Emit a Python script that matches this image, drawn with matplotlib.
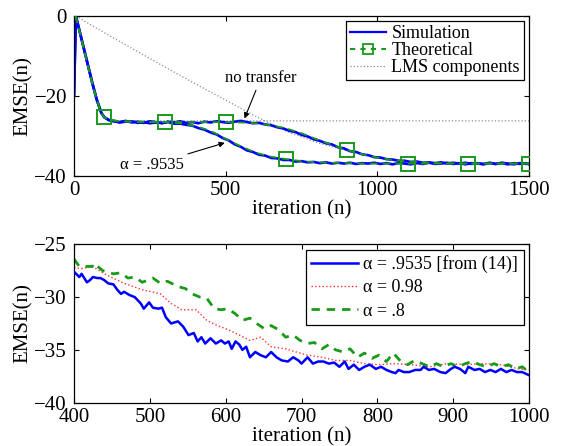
import matplotlib
matplotlib.use("Agg")
import matplotlib.pyplot as plt
from matplotlib.lines import Line2D

plt.rcParams['font.family'] = ['Liberation Serif', 'DejaVu Serif']
plt.rcParams['mathtext.fontset'] = 'stix'

# ---------------- top panel data ----------------
start_x = [0, 6, 20, 40, 60, 75, 90, 100, 115]
start_y = [-20, 0, -4.3, -10.5, -16.7, -21.0, -24.3, -25.4, -26.1]

sim_x = [130, 150, 170, 190, 210, 230, 250, 270, 290, 310, 330, 350, 370, 390,
         410, 430, 450, 470, 490, 510, 530, 550, 570, 590, 610, 630, 650, 670,
         690, 710, 730, 750, 770, 790, 810, 830, 850, 870, 890, 910, 930, 950,
         970, 990, 1010, 1030, 1050, 1070, 1090, 1110, 1130, 1150, 1170, 1190,
         1210, 1230, 1250, 1270, 1290, 1310, 1330, 1350, 1370, 1390, 1410, 1430,
         1450, 1470, 1490, 1500]
sim_notransfer = [-26.4, -26.6, -26.3, -26.7, -26.5, -26.8, -26.4, -26.6, -26.9,
                  -26.5, -26.7, -26.4, -26.8, -26.6, -26.9, -26.5, -26.7, -26.4,
                  -26.6, -26.8, -26.5, -26.3, -26.6, -26.9, -26.8, -27.2, -27.4,
                  -27.9, -28.2, -28.8, -29.1, -29.8, -30.2, -30.9, -31.3, -31.9,
                  -32.2, -32.9, -33.2, -33.9, -34.1, -34.7, -34.9, -35.4, -35.5,
                  -35.9, -36.0, -36.3, -36.3, -36.6, -36.5, -36.8, -36.7, -36.9,
                  -36.7, -37.0, -36.8, -37.0, -36.8, -37.1, -36.9, -37.1, -36.8,
                  -37.1, -36.9, -37.2, -36.9, -37.1, -36.9, -37.2]
sim_alpha = [-26.3, -26.7, -26.5, -26.4, -26.8, -26.6, -26.9, -26.7, -26.8,
             -26.6, -27.0, -27.0, -27.3, -27.5, -28.1, -28.5, -29.2, -29.7,
             -30.6, -31.2, -32.2, -32.8, -33.7, -34.1, -34.8, -35.0, -35.6,
             -35.7, -36.1, -36.1, -36.5, -36.4, -36.7, -36.6, -36.9, -36.7,
             -37.0, -36.8, -37.0, -36.8, -37.1, -36.9, -37.0, -36.8, -37.1,
             -36.9, -37.2, -36.9, -37.0, -37.2, -36.9, -37.1, -36.8, -37.1,
             -37.0, -36.8, -37.1, -36.9, -37.2, -36.9, -37.0, -37.2, -36.9,
             -37.1, -36.8, -37.0, -37.2, -36.9, -37.1, -37.0]

th_x = [5, 20, 40, 60, 75, 90, 100, 115, 150, 200, 300, 350, 400, 450, 500, 550,
        600, 650, 700, 750, 800, 850, 900, 950, 1000, 1050, 1100, 1150, 1200,
        1300, 1400, 1500]
th_notransfer = [0, -4.4, -10.6, -16.8, -21.1, -24.4, -25.4, -26.0, -26.4, -26.5,
                 -26.6, -26.6, -26.6, -26.6, -26.6, -26.7, -26.9, -27.4, -28.2,
                 -29.4, -30.9, -32.3, -33.6, -34.7, -35.5, -36.1, -36.5, -36.7,
                 -36.9, -37.0, -37.0, -37.0]
th_alpha = [0, -4.4, -10.6, -16.8, -21.1, -24.4, -25.4, -26.0, -26.4, -26.5,
            -26.6, -26.9, -27.6, -28.8, -30.8, -32.7, -34.3, -35.3, -35.9,
            -36.4, -36.7, -36.8, -36.9, -37.0, -37.0, -37.0, -37.0, -37.0,
            -37.0, -37.0, -37.0, -37.0]
marks_notransfer = [100, 500, 900, 1300]
marks_alpha = [300, 700, 1100, 1500]

lms_fast_x = [6, 20, 40, 60, 75, 90, 100, 115, 150, 1500]
lms_fast_y = [0, -4.4, -10.6, -16.8, -21.1, -24.4, -25.4, -26.0, -26.3, -26.3]
lms_slow_x = [6, 100, 200, 300, 400, 500, 600, 700, 800, 900, 1000, 1100, 1200,
              1300, 1500]
lms_slow_y = [0, -4.2, -8.5, -12.8, -17.0, -21.1, -25.2, -28.9, -31.7, -33.8,
              -35.5, -36.5, -36.9, -37.0, -37.0]

# ---------------- bottom panel data ----------------
b_x = [400, 407, 410, 417, 421, 425, 431, 435, 440, 445, 452, 457, 462, 466, 473,
       480, 488, 492, 499, 504, 511, 516, 521, 528, 537, 544, 551, 558, 563, 568,
       573, 580, 587, 594, 599, 604, 608, 613, 618, 622, 627, 632, 639, 646, 653,
       660, 667, 674, 682, 689, 696, 700, 708, 715, 722, 729, 736, 743, 750, 757,
       762, 769, 776, 783, 790, 798, 805, 812, 819, 824, 828, 835, 842, 850, 857,
       861, 868, 875, 883, 890, 897, 902, 909, 916, 920, 928, 935, 942, 949, 956,
       963, 970, 977, 984, 991, 1000]
b_y = [-27.6, -28.1, -27.8, -28.6, -28.4, -28.1, -28.2, -28.2, -28.4, -28.7,
       -28.8, -29.3, -29.7, -29.5, -29.8, -30.0, -30.6, -31.1, -30.5, -31.0,
       -31.1, -31.0, -31.9, -32.5, -32.3, -32.8, -33.6, -33.4, -34.2, -33.8,
       -34.4, -33.9, -34.4, -34.1, -34.4, -34.2, -34.9, -34.2, -34.5, -35.0,
       -34.7, -35.7, -35.2, -35.5, -35.7, -35.2, -35.7, -36.0, -36.1, -35.7,
       -36.0, -36.3, -35.7, -36.3, -36.1, -36.1, -36.3, -36.2, -36.6, -36.1,
       -36.8, -36.4, -36.9, -36.6, -36.4, -36.8, -36.6, -36.9, -37.1, -37.2,
       -36.9, -37.1, -37.1, -36.9, -36.9, -36.6, -36.9, -36.8, -37.1, -37.2,
       -36.8, -36.6, -36.8, -37.2, -36.6, -36.9, -36.8, -37.1, -36.9, -37.1,
       -36.8, -37.1, -36.9, -37.1, -37.1, -37.4]

r_x = [400, 410, 424, 443, 466, 490, 514, 528, 542, 561, 575, 589, 604, 618, 632,
       646, 660, 679, 693, 708, 727, 745, 764, 783, 802, 821, 845, 869, 892, 916,
       939, 963, 987, 1000]
r_y = [-27.2, -27.3, -27.1, -27.9, -28.7, -29.3, -29.7, -30.6, -31.2, -31.2,
       -32.2, -32.7, -33.1, -33.6, -34.1, -33.8, -34.7, -34.9, -35.2, -35.5,
       -35.7, -36.0, -36.0, -36.3, -36.4, -36.3, -36.4, -36.6, -36.3, -36.4,
       -36.3, -36.4, -36.8, -36.9]

g_x = [400, 407, 424, 426, 438, 452, 462, 471, 480, 490, 504, 514, 523, 537, 547,
       556, 566, 575, 585, 594, 603, 613, 622, 632, 641, 651, 660, 670, 679, 689,
       698, 708, 717, 727, 736, 745, 755, 764, 774, 783, 793, 802, 812, 821, 831,
       840, 849, 859, 869, 878, 887, 897, 906, 916, 925, 935, 944, 954, 963, 973,
       982, 991, 1000]
g_y = [-26.4, -27.1, -27.1, -26.8, -27.5, -27.8, -27.7, -28.2, -28.1, -28.6,
       -28.2, -28.7, -28.5, -29.0, -29.2, -29.7, -30.0, -30.1, -31.1, -31.2,
       -31.1, -31.6, -32.2, -32.0, -32.5, -33.0, -32.7, -33.1, -33.8, -33.6,
       -34.1, -34.4, -34.3, -34.9, -34.5, -35.0, -35.2, -34.9, -35.7, -35.3,
       -35.8, -35.5, -36.1, -35.3, -36.1, -36.4, -36.0, -36.3, -36.6, -36.3,
       -36.6, -36.3, -36.6, -36.3, -36.1, -36.4, -36.6, -36.3, -36.6, -36.4,
       -36.8, -36.6, -37.1]

top_xticks = [0, 500, 1000, 1500]
top_yticks = [0, -20, -40]
bot_xticks = [400, 500, 600, 700, 800, 900, 1000]
bot_yticks = [-25, -30, -35, -40]

BLUE = '#0000ff'
GREEN = '#1a9a1a'
GRAY = '#8c8c8c'
RED = '#ff3030'

fig = plt.figure(figsize=(5.62, 4.46), dpi=100)
ax1 = fig.add_axes([0.1317, 0.6065, 0.8096, 0.3576])
ax2 = fig.add_axes([0.1317, 0.0971, 0.8096, 0.3552])

def style(ax):
    ax.tick_params(direction='in', top=True, right=True, length=3.5, width=0.8,
                   labelsize=15)
    ax.tick_params(axis='x', pad=4)
    ax.tick_params(axis='y', pad=5)
    for s in ax.spines.values():
        s.set_linewidth(0.9)

# top panel
ax1.plot(lms_fast_x, lms_fast_y, ':', color=GRAY, lw=0.9, zorder=1)
ax1.plot(lms_slow_x, lms_slow_y, ':', color=GRAY, lw=0.9, zorder=1)
ax1.plot(start_x + sim_x, start_y + sim_notransfer, '-', color=BLUE, lw=1.9, zorder=2)
ax1.plot(start_x + sim_x, start_y + sim_alpha, '-', color=BLUE, lw=1.9, zorder=2)
idx_nt = [th_x.index(v) for v in marks_notransfer]
idx_al = [th_x.index(v) for v in marks_alpha]
ax1.plot(th_x, th_notransfer, '--', color=GREEN, lw=1.3, dashes=(4, 3),
         marker='s', markersize=9.5, mfc='none', mec=GREEN, mew=1.4,
         markevery=idx_nt, zorder=3)
ax1.plot(th_x, th_alpha, '--', color=GREEN, lw=1.3, dashes=(4, 3),
         marker='s', markersize=9.5, mfc='none', mec=GREEN, mew=1.4,
         markevery=idx_al, zorder=3)
ax1.set_xlim(0, 1500)
ax1.set_ylim(-40, 0)
ax1.set_xticks(top_xticks)
ax1.set_yticks(top_yticks)
style(ax1)
ax1.set_xlabel('iteration (n)', fontsize=15, labelpad=0)
ax1.set_ylabel('EMSE(n)', fontsize=15, labelpad=1)

ax1.annotate('no transfer', xy=(562, -25.7), xytext=(616, -15.6),
             ha='center', va='center', fontsize=12,
             arrowprops=dict(arrowstyle='-|>', color='black', lw=0.8,
                             mutation_scale=8, shrinkA=1, shrinkB=0))
ax1.annotate('α = .9535', xy=(497, -31.8), xytext=(362, -37.3),
             ha='right', va='center', fontsize=12,
             arrowprops=dict(arrowstyle='-|>', color='black', lw=0.8,
                             mutation_scale=8, shrinkA=1, shrinkB=0))

h1 = [Line2D([], [], color=BLUE, lw=1.6),
      Line2D([], [], color=GREEN, lw=1.5, ls='--', dashes=(2.5, 2.5), marker='s',
             markersize=6.5, mfc='none', mec=GREEN, mew=1.3),
      Line2D([], [], color=GRAY, lw=0.9, ls=':')]
leg1 = ax1.legend(h1, ['Simulation', 'Theoretical', 'LMS components'],
                  loc='upper right', fontsize=13, frameon=True, fancybox=False,
                  edgecolor='black', framealpha=1, borderaxespad=0.3,
                  handlelength=2.0, handletextpad=0.3, labelspacing=0.0,
                  borderpad=0.2)
leg1.get_frame().set_linewidth(0.9)

# bottom panel
ax2.plot(b_x, b_y, '-', color=BLUE, lw=1.8, zorder=3)
ax2.plot(r_x, r_y, ':', color=RED, lw=1.0, zorder=2)
ax2.plot(g_x, g_y, '--', color=GREEN, lw=2.0, dashes=(3, 2.5), zorder=2)
ax2.set_xlim(400, 1000)
ax2.set_ylim(-40, -25)
ax2.set_xticks(bot_xticks)
ax2.set_yticks(bot_yticks)
style(ax2)
ax2.set_xlabel('iteration (n)', fontsize=15, labelpad=0)
ax2.set_ylabel('EMSE(n)', fontsize=15, labelpad=1)

h2 = [Line2D([], [], color=BLUE, lw=1.8),
      Line2D([], [], color=RED, lw=1.0, ls=':'),
      Line2D([], [], color=GREEN, lw=2.0, ls='--', dashes=(3, 2.5))]
leg2 = ax2.legend(h2, ['α = .9535 [from (14)]', 'α = 0.98', 'α = .8'],
                  loc='upper right', fontsize=13, frameon=True, fancybox=False,
                  edgecolor='black', framealpha=1, borderaxespad=0.3,
                  handlelength=2.6, handletextpad=0.3, labelspacing=0.35,
                  borderpad=0.3)
leg2.get_frame().set_linewidth(0.9)

fig.savefig('out.png', dpi=100)
